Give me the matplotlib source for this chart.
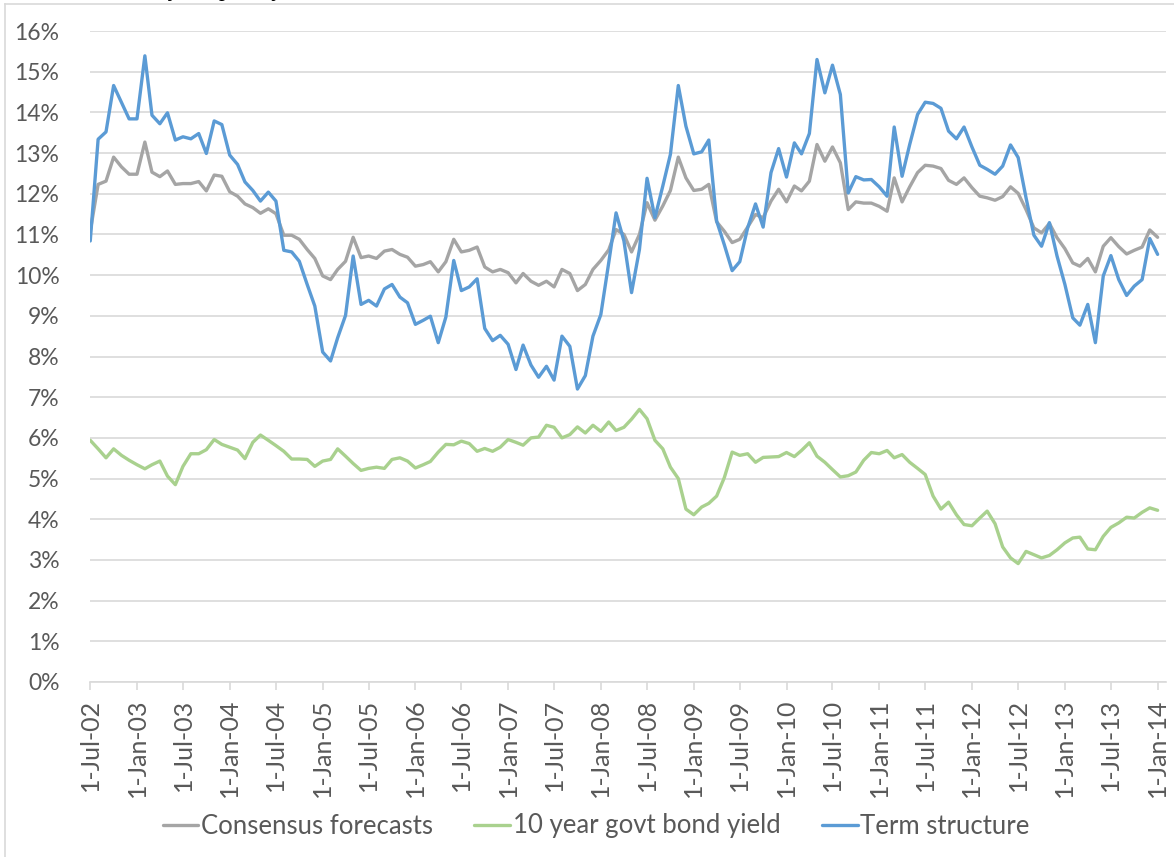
import matplotlib
matplotlib.use("Agg")
import matplotlib.pyplot as plt
import matplotlib.dates as mdates
from matplotlib.ticker import FuncFormatter
from matplotlib.lines import Line2D
import pandas as pd

# ---- data (monthly, 1-Jul-02 .. 1-Jan-14), values in % ----
start_date = "2002-07-01"
end_date = "2014-01-01"

consensus = [
    11.08, 12.23, 12.31, 12.90, 12.66, 12.48, 12.48, 13.27, 12.53, 12.42,
    12.56, 12.23, 12.25, 12.25, 12.30, 12.07, 12.46, 12.43, 12.05, 11.94,
    11.75, 11.66, 11.52, 11.63, 11.51, 10.98, 10.98, 10.88, 10.63, 10.41,
    9.98, 9.89, 10.14, 10.34, 10.93, 10.43, 10.47, 10.41, 10.59, 10.63,
    10.51, 10.44, 10.22, 10.26, 10.33, 10.08, 10.33, 10.88, 10.57, 10.61,
    10.69, 10.20, 10.08, 10.14, 10.06, 9.81, 10.04, 9.85, 9.75, 9.85,
    9.71, 10.14, 10.04, 9.62, 9.77, 10.14, 10.36, 10.62, 11.12, 11.00,
    10.57, 11.00, 11.78, 11.35, 11.70, 12.08, 12.90, 12.39, 12.08, 12.11,
    12.23, 11.31, 11.08, 10.80, 10.88, 11.18, 11.49, 11.41, 11.82, 12.11,
    11.80, 12.19, 12.07, 12.31, 13.21, 12.80, 13.15, 12.76, 11.61, 11.80,
    11.77, 11.77, 11.69, 11.57, 12.39, 11.80, 12.17, 12.52, 12.70, 12.68,
    12.62, 12.33, 12.23, 12.39, 12.15, 11.94, 11.90, 11.84, 11.93, 12.17,
    12.01, 11.61, 11.16, 11.04, 11.27, 10.92, 10.65, 10.30, 10.22, 10.41,
    10.08, 10.71, 10.92, 10.70, 10.52, 10.61, 10.69, 11.11, 10.93,
]

bond_yield = [
    5.94, 5.73, 5.51, 5.73, 5.57, 5.45, 5.34, 5.24, 5.34, 5.43,
    5.06, 4.85, 5.30, 5.61, 5.61, 5.71, 5.96, 5.84, 5.77, 5.70,
    5.49, 5.89, 6.07, 5.94, 5.81, 5.67, 5.48, 5.48, 5.47, 5.30,
    5.43, 5.47, 5.73, 5.55, 5.37, 5.20, 5.25, 5.28, 5.25, 5.47,
    5.51, 5.43, 5.26, 5.34, 5.42, 5.65, 5.84, 5.83, 5.92, 5.86,
    5.67, 5.74, 5.67, 5.77, 5.96, 5.89, 5.82, 6.00, 6.02, 6.31,
    6.26, 6.00, 6.08, 6.27, 6.12, 6.31, 6.16, 6.39, 6.18, 6.26,
    6.46, 6.70, 6.47, 5.94, 5.73, 5.28, 5.00, 4.25, 4.11, 4.30,
    4.39, 4.57, 5.02, 5.65, 5.57, 5.61, 5.40, 5.52, 5.53, 5.54,
    5.64, 5.54, 5.69, 5.88, 5.55, 5.40, 5.22, 5.04, 5.07, 5.16,
    5.45, 5.64, 5.61, 5.69, 5.51, 5.59, 5.40, 5.25, 5.10, 4.57,
    4.25, 4.42, 4.11, 3.87, 3.84, 4.03, 4.20, 3.89, 3.32, 3.05,
    2.91, 3.21, 3.13, 3.05, 3.11, 3.25, 3.42, 3.54, 3.56, 3.27,
    3.25, 3.58, 3.80, 3.91, 4.05, 4.03, 4.17, 4.28, 4.22,
]

term_structure = [
    10.84, 13.34, 13.52, 14.66, 14.24, 13.84, 13.84, 15.39, 13.93, 13.72,
    13.99, 13.32, 13.40, 13.35, 13.48, 12.99, 13.79, 13.70, 12.95, 12.72,
    12.29, 12.08, 11.82, 12.04, 11.82, 10.61, 10.57, 10.34, 9.77, 9.24,
    8.11, 7.89, 8.46, 9.01, 10.47, 9.28, 9.38, 9.24, 9.66, 9.77,
    9.46, 9.32, 8.79, 8.89, 8.99, 8.34, 8.97, 10.36, 9.62, 9.71,
    9.91, 8.69, 8.39, 8.52, 8.30, 7.68, 8.28, 7.79, 7.49, 7.76,
    7.42, 8.50, 8.25, 7.20, 7.53, 8.50, 9.03, 10.30, 11.53, 10.84,
    9.57, 10.63, 12.38, 11.41, 12.19, 12.97, 14.66, 13.66, 12.98, 13.03,
    13.32, 11.33, 10.75, 10.11, 10.33, 11.16, 11.75, 11.18, 12.52, 13.11,
    12.41, 13.25, 12.98, 13.48, 15.30, 14.48, 15.16, 14.44, 12.02, 12.42,
    12.34, 12.35, 12.17, 11.94, 13.64, 12.43, 13.21, 13.95, 14.25, 14.22,
    14.10, 13.54, 13.35, 13.64, 13.15, 12.70, 12.60, 12.48, 12.68, 13.20,
    12.89, 11.90, 10.98, 10.71, 11.29, 10.47, 9.77, 8.95, 8.77, 9.28,
    8.34, 9.98, 10.48, 9.89, 9.50, 9.73, 9.89, 10.90, 10.51,
]

series_names = ["Consensus forecasts", "10 year govt bond yield", "Term structure"]
series_colors = ["#A5A5A5", "#A9D18E", "#5B9BD5"]

dates = pd.date_range(start_date, end_date, freq="MS")

# ---- figure ----
W, H = 1174, 857
fig = plt.figure(figsize=(W / 100, H / 100), dpi=100)
FONT = ["Lato", "DejaVu Sans"]
plt.rcParams["font.family"] = FONT
TEXT_COLOR = "#595959"
GRID_COLOR = "#D9D9D9"

# outer chart border (top and left edges visible)
fig.add_artist(Line2D([5 / W, 1], [1 - 4 / H, 1 - 4 / H], transform=fig.transFigure,
                      color=GRID_COLOR, lw=1.2))
fig.add_artist(Line2D([5 / W, 5 / W], [0, 1 - 4 / H], transform=fig.transFigure,
                      color=GRID_COLOR, lw=1.2))

# clipped caption fragment at the very top (only descender tips visible)
fig.text(170 / W, 1 + 4 / H, "y       p       y", fontsize=17, style="italic",
         family="Liberation Serif", color="#000000", va="baseline", ha="left")

left, right = 90 / W, 1166 / W
bottom, top = 1 - 682 / H, 1 - 31 / H
ax = fig.add_axes([left, bottom, right - left, top - bottom])

for vals, name, col in zip([consensus, bond_yield, term_structure], series_names, series_colors):
    ax.plot(dates, [v / 100 for v in vals], color=col, lw=2.4, label=name,
            solid_joinstyle="round", solid_capstyle="round")

ax.set_ylim(0, 0.16)
ax.set_yticks([i / 100 for i in range(0, 17)])
ax.yaxis.set_major_formatter(FuncFormatter(lambda v, p: f"{v*100:.0f}%"))
ax.grid(axis="y", color=GRID_COLOR, lw=1.2)
ax.set_axisbelow(True)

ax.set_xlim(pd.Timestamp("2002-06-30"), pd.Timestamp("2014-02-03"))
ax.xaxis.set_major_locator(mdates.MonthLocator(bymonth=[1, 7]))
ax.xaxis.set_major_formatter(mdates.DateFormatter("1-%b-%y"))

for s in ["top", "right", "left"]:
    ax.spines[s].set_visible(False)
ax.spines["bottom"].set_color(GRID_COLOR)
ax.spines["bottom"].set_linewidth(1.2)

ax.tick_params(axis="y", length=0, pad=22, labelsize=16.5, labelcolor=TEXT_COLOR)
ax.tick_params(axis="x", length=6, width=1.2, color=GRID_COLOR, pad=6,
               labelsize=18, labelcolor=TEXT_COLOR, labelrotation=90)

leg = fig.legend(loc="center", bbox_to_anchor=(596 / W, 1 - 826 / H), ncol=3,
                 frameon=False, fontsize=18.5, handlelength=1.4, handletextpad=0.1,
                 columnspacing=1.6)
for t in leg.get_texts():
    t.set_color(TEXT_COLOR)

fig.savefig("out.png", dpi=100)
